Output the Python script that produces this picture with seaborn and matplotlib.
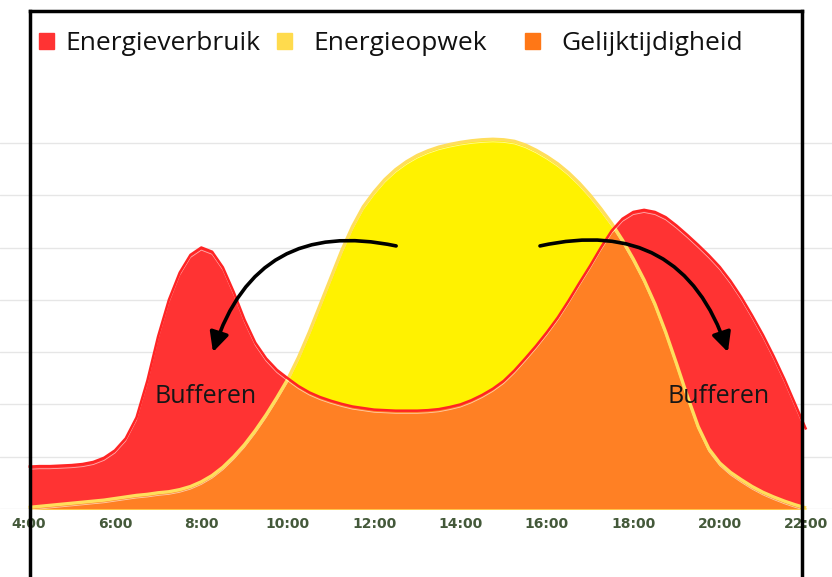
import numpy as np
import matplotlib
matplotlib.use("Agg")
import matplotlib.pyplot as plt
import matplotlib.patheffects as pe
from matplotlib.patches import Patch, Rectangle
from matplotlib.lines import Line2D
import seaborn as sns

# ── data (quarter-hour steps) ────────────────────────────────────────────────
HOURS = [4.00, 4.25, 4.50, 4.75, 5.00, 5.25, 5.50, 5.75, 6.00, 6.25, 6.50, 6.75,
         7.00, 7.25, 7.50, 7.75, 8.00, 8.25, 8.50, 8.75, 9.00, 9.25, 9.50, 9.75,
         10.00, 10.25, 10.50, 10.75, 11.00, 11.25, 11.50, 11.75, 12.00, 12.25,
         12.50, 12.75, 13.00, 13.25, 13.50, 13.75, 14.00, 14.25, 14.50, 14.75,
         15.00, 15.25, 15.50, 15.75, 16.00, 16.25, 16.50, 16.75, 17.00, 17.25,
         17.50, 17.75, 18.00, 18.25, 18.50, 18.75, 19.00, 19.25, 19.50, 19.75,
         20.00, 20.25, 20.50, 20.75, 21.00, 21.25, 21.50, 21.75, 22.00]

VERBRUIK = [0.81, 0.82, 0.82, 0.83, 0.84, 0.86, 0.90, 0.98, 1.12, 1.35, 1.75, 2.45,
            3.30, 4.00, 4.52, 4.86, 5.00, 4.92, 4.62, 4.15, 3.62, 3.18, 2.88, 2.66,
            2.50, 2.35, 2.23, 2.14, 2.07, 2.01, 1.96, 1.93, 1.90, 1.89,
            1.88, 1.88, 1.88, 1.89, 1.91, 1.95, 2.00, 2.08, 2.18, 2.30,
            2.45, 2.65, 2.88, 3.12, 3.38, 3.66, 3.98, 4.32, 4.65, 5.00,
            5.32, 5.55, 5.68, 5.72, 5.68, 5.58, 5.42, 5.24, 5.05, 4.85,
            4.63, 4.36, 4.05, 3.70, 3.33, 2.92, 2.48, 2.00, 1.52]

OPWEK = [0.03, 0.05, 0.07, 0.09, 0.11, 0.13, 0.15, 0.17, 0.20, 0.23, 0.26, 0.28,
         0.31, 0.33, 0.37, 0.43, 0.52, 0.64, 0.80, 1.00, 1.23, 1.50, 1.80, 2.13,
         2.48, 2.90, 3.38, 3.90, 4.42, 4.94, 5.40, 5.78, 6.06, 6.30,
         6.49, 6.64, 6.76, 6.85, 6.92, 6.97, 7.01, 7.04, 7.06, 7.07,
         7.06, 7.03, 6.96, 6.86, 6.74, 6.60, 6.43, 6.23, 6.00, 5.74,
         5.46, 5.14, 4.78, 4.38, 3.92, 3.38, 2.78, 2.16, 1.58, 1.15,
         0.88, 0.70, 0.56, 0.43, 0.32, 0.23, 0.15, 0.08, 0.02]

SERIES_NAMES = ["Energieverbruik", "Energieopwek", "Gelijktijdigheid"]
TICK_HOURS = [4, 6, 8, 10, 12, 14, 16, 18, 20, 22]
TICK_LABELS = ["4:00", "6:00", "8:00", "10:00", "12:00", "14:00",
               "16:00", "18:00", "20:00", "22:00"]
GRID_LEVELS = [0, 1, 2, 3, 4, 5, 6, 7]
BUFFER_LABEL = "Bufferen"

RED = "#ff3333"
RED_LINE = "#ff2424"
YELLOW = "#fff200"
YELLOW_LINE = "#ffde5c"
ORANGE = "#ff8024"
TICK_COLOR = "#44593a"
LEGEND_COLORS = [RED, "#ffdb4d", "#ff7716"]

sns.set_theme(style="whitegrid")
plt.rcParams["font.family"] = ["Open Sans", "DejaVu Sans"]

W, H = 832, 577
fig = plt.figure(figsize=(W / 100, H / 100), dpi=100)
# axes spans full width, baseline at y=509px, top at y=11px
ax = fig.add_axes([0, (H - 509) / H, 1, 498 / H])

px_per_hour = 43.2
px_per_unit = 52.3
ax.set_xlim(4 - 28.5 / px_per_hour, 4 + (W - 28.5) / px_per_hour)
ax.set_ylim(0, 498 / px_per_unit)

# fills: consumption, production, overlap (consumption clipped to production)
red_fill = ax.fill_between(HOURS, 0, VERBRUIK, color=RED, lw=0, zorder=1)
frame_x = 4 + (802 - 28.5) / px_per_hour
clip_rect = Rectangle((0, -1), frame_x, 20, transform=ax.transData)
red_fill.set_clip_path(clip_rect)

yel_fill = ax.fill_between(HOURS, 0, OPWEK, color=YELLOW, lw=0, zorder=2)
org_fill = ax.fill_between(HOURS, 0, VERBRUIK, color=ORANGE, lw=0, zorder=3)
org_fill.set_clip_path(yel_fill.get_paths()[0], ax.transData)

sns.lineplot(x=HOURS, y=OPWEK, color=YELLOW_LINE, lw=2.4, ax=ax,
             legend=False, zorder=5)
sns.lineplot(x=HOURS, y=VERBRUIK, color=RED_LINE, lw=1.8, ax=ax,
             legend=False, zorder=6)
# thin light inner edge, as in the original artwork
inner = [pe.Stroke(offset=(0, -1.9), linewidth=0.6, foreground="white", alpha=0.6),
         pe.Normal()]
for ln in ax.lines:
    ln.set_clip_on(False)
    ln.set_solid_capstyle("butt")
    ln.set_path_effects(inner)

# arrows + labels
arrow_kw = dict(arrowstyle="-|>,head_length=0.65,head_width=0.32",
                color="black", lw=2.6, shrinkA=0, shrinkB=0, mutation_scale=18)
ax.annotate("", xy=(8.27, 3.0), xytext=(12.51, 5.03),
            arrowprops=dict(connectionstyle="arc3,rad=0.45", **arrow_kw), zorder=8)
ax.annotate("", xy=(20.19, 3.0), xytext=(15.84, 5.03),
            arrowprops=dict(connectionstyle="arc3,rad=-0.45", **arrow_kw), zorder=8)
for bx in (8.11, 19.98):
    ax.text(bx, 2.16, BUFFER_LABEL, ha="center", va="center", fontsize=18,
            color="#161616", zorder=9)

# axes styling
ax.set_xticks(TICK_HOURS, TICK_LABELS)
ax.set_yticks(GRID_LEVELS)
ax.set_yticklabels([])
ax.tick_params(axis="x", length=0, pad=6, labelsize=10, labelcolor=TICK_COLOR)
ax.tick_params(axis="y", length=0)
for lbl in ax.get_xticklabels():
    lbl.set_fontweight("bold")
    lbl.set_family("DejaVu Sans")
ax.grid(axis="y", color="#e6e6e6", lw=1)
ax.grid(axis="x", visible=False)
ax.set_axisbelow(True)
for sp in ax.spines.values():
    sp.set_visible(False)
ax.set_xlabel("")
ax.set_ylabel("")

# legend: one entry per block so the gaps follow the original
legend_x = [39, 277, 525]
text_pad = [0.42, 0.8, 0.78]
for name, col, lx, pad in zip(SERIES_NAMES, LEGEND_COLORS, legend_x, text_pad):
    fig.legend([Patch(color=col)], [name], loc="center left",
               bbox_to_anchor=(lx / W, 1 - 44 / H), frameon=False,
               fontsize=19, labelcolor="#111111", handlelength=0.58,
               handleheight=0.58, handletextpad=pad, borderpad=0,
               borderaxespad=0)

# black frame (open at the bottom)
top = 1 - 11 / H
frame_kw = dict(color="black", lw=2.5, transform=fig.transFigure,
                solid_capstyle="projecting", zorder=20)
fig.add_artist(Line2D([30 / W, 30 / W], [0, top], **frame_kw))
fig.add_artist(Line2D([30 / W, 802 / W], [top, top], **frame_kw))
fig.add_artist(Line2D([802 / W, 802 / W], [0, top], **frame_kw))

fig.savefig("out.png", dpi=100)
plt.close(fig)
